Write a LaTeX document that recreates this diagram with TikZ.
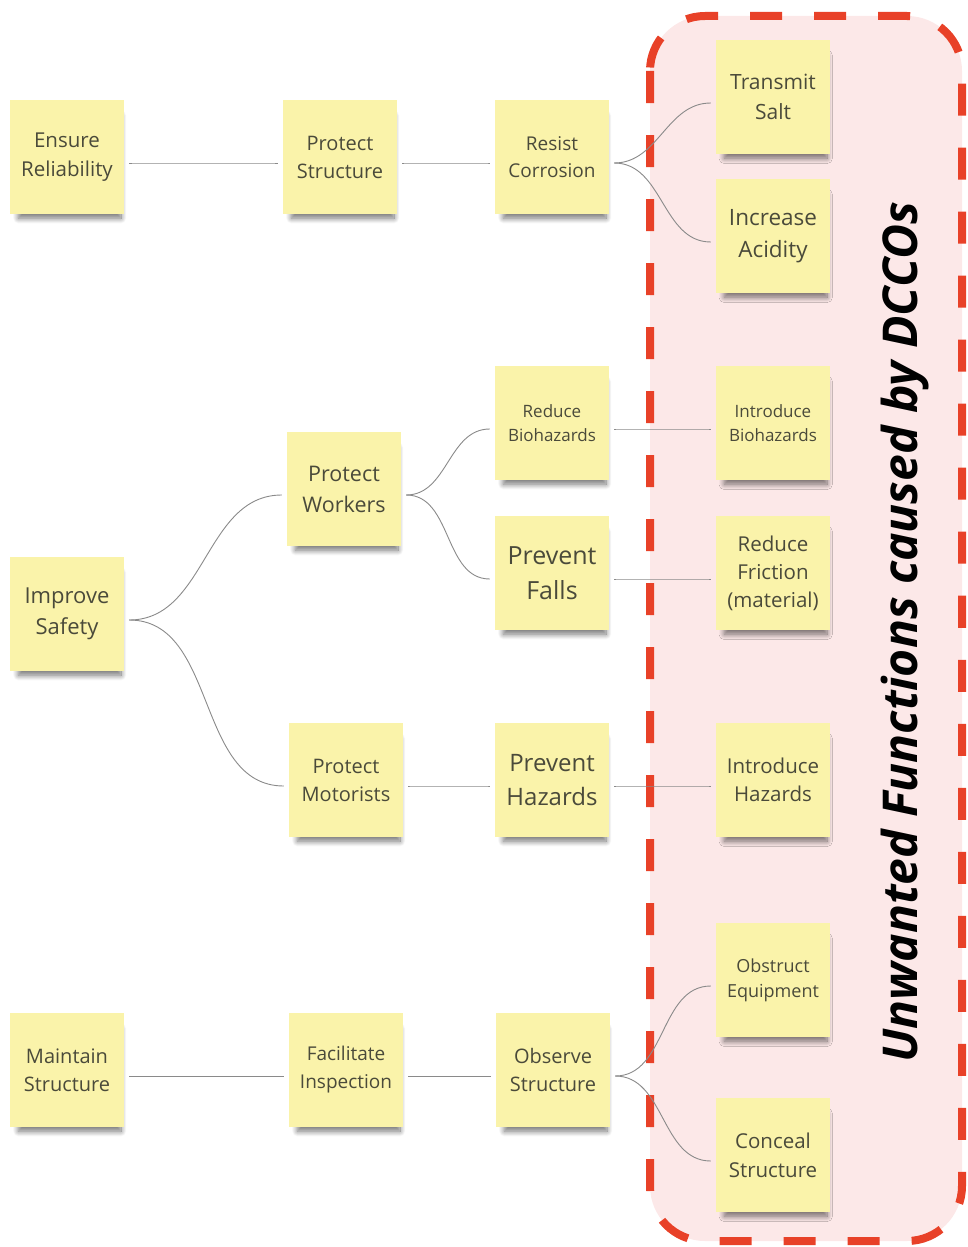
\documentclass[tikz,border=0pt]{standalone}
\usepackage{fontspec}
\setmainfont{Open Sans}
\usetikzlibrary{shadows.blur}
\definecolor{notefill}{HTML}{FAF3AA}
\definecolor{notetext}{HTML}{4A4A3A}
\definecolor{zonefill}{HTML}{FCE8E8}
\definecolor{zonered}{HTML}{E84128}
\definecolor{linkgray}{HTML}{8A8A8A}
\tikzset{
  note/.style={rectangle, fill=notefill, text=notetext, minimum width=114pt, minimum height=114pt,
    inner sep=0pt, align=center,
    blur shadow={shadow xshift=3pt, shadow yshift=-11pt, shadow scale=0.9,
      shadow blur radius=6pt, shadow blur steps=12, shadow opacity=55}},
  link/.style={draw=linkgray, line width=0.9pt},
  zone/.style={draw=zonered, fill=zonefill, line width=8pt, dash pattern=on 32pt off 32pt, rounded corners=55pt},
}
\newcommand\fs[2]{\fontsize{#1}{#2}\selectfont}
\newcommand\conn[2]{\draw[link] ([shift={(5,6)}]#1.east) to[out=0,in=180] ([shift={(-5,6)}]#2.west);}
\begin{document}
\begin{tikzpicture}[x=1pt,y=-1pt]
\useasboundingbox (0,0) rectangle (967,1247);
% zone
\path[zone] (650,16) rectangle (962,1241);
\node[rotate=90, font={\fs{48}{54}\bfseries\itshape}, text=black] (title) at (905,632) {Unwanted Functions caused by DCCOs};
% nodes
\node[note, font={\fs{20.5}{29}}] (ER) at (67,157) {Ensure\\Reliability};
\node[note, font={\fs{20}{28}}] (PS) at (340,157) {Protect\\Structure};
\node[note, font={\fs{19}{27}}] (RC) at (552,157) {Resist\\Corrosion};
\node[note, font={\fs{21}{30}}] (TS) at (773,97) {Transmit\\Salt};
\node[note, font={\fs{22.5}{32}}] (IA) at (773,236) {Increase\\Acidity};
\node[note, font={\fs{17}{24}}] (RB) at (552,423) {Reduce\\Biohazards};
\node[note, font={\fs{17}{24}}] (IB) at (773,423) {Introduce\\Biohazards};
\node[note, font={\fs{21.5}{31}}] (PW) at (344,489) {Protect\\Workers};
\node[note, font={\fs{25}{35}}] (PF) at (552,573) {Prevent\\Falls};
\node[note, font={\fs{20.5}{28}}] (RF) at (773,573) {Reduce\\Friction\\(material)};
\node[note, font={\fs{22}{31}}] (IS) at (67,614) {Improve\\Safety};
\node[note, font={\fs{20}{28}}] (PM) at (346,780) {Protect\\Motorists};
\node[note, font={\fs{24}{34}}] (PH) at (552,780) {Prevent\\Hazards};
\node[note, font={\fs{20.5}{28}}] (IH) at (773,780) {Introduce\\Hazards};
\node[note, font={\fs{18}{25}}] (OE) at (773,980) {Obstruct\\Equipment};
\node[note, font={\fs{20}{28}}] (MS) at (67,1070) {Maintain\\Structure};
\node[note, font={\fs{19}{28}}] (FI) at (346,1070) {Facilitate\\Inspection};
\node[note, font={\fs{20}{28}}] (OS) at (553,1070) {Observe\\Structure};
\node[note, font={\fs{20.5}{29}}] (CS) at (773,1155) {Conceal\\Structure};
% connectors
\conn{ER}{PS}
\conn{PS}{RC}
\conn{RC}{TS}
\conn{RC}{IA}
\conn{IS}{PW}
\conn{IS}{PM}
\conn{PW}{RB}
\conn{PW}{PF}
\conn{RB}{IB}
\conn{PF}{RF}
\conn{PM}{PH}
\conn{PH}{IH}
\conn{MS}{FI}
\conn{FI}{OS}
\conn{OS}{OE}
\conn{OS}{CS}
\end{tikzpicture}
\end{document}
